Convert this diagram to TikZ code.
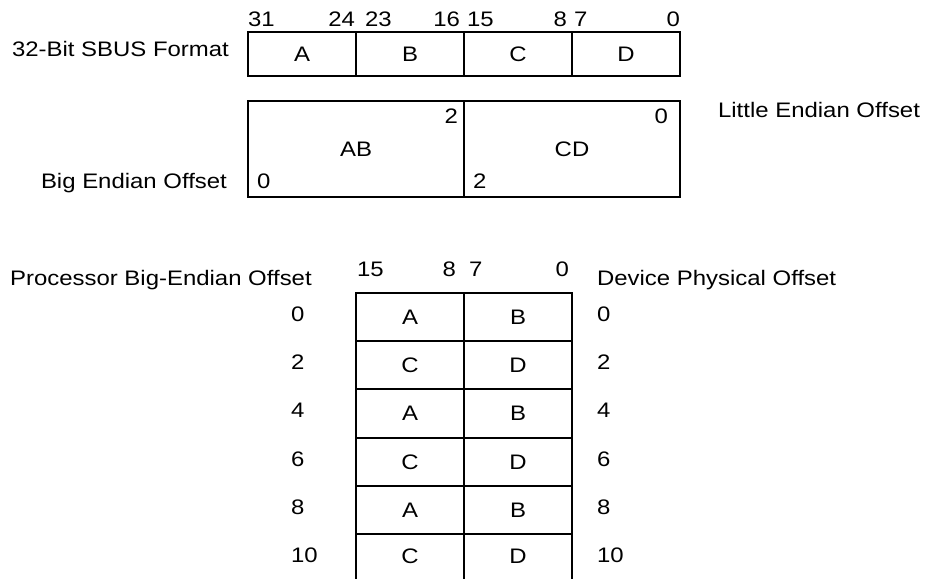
\documentclass[tikz,border=0pt]{standalone}
\usepackage{fontspec}
\setmainfont[FakeStretch=1.14]{Liberation Sans}
\begin{document}
\begin{tikzpicture}[
        x=0.5pt, y=-0.5pt,
        line width=1.1pt,
        font=\fontsize{10.5}{12.5}\selectfont
    ]
    \tikzset{
        bytecell/.style = {rectangle, draw=black, line width=1.1pt, minimum width=54pt, minimum height=22pt, inner sep=0pt, outer sep=0pt},
        halfcell/.style = {rectangle, draw=black, line width=1.1pt, minimum width=108pt, minimum height=48pt, inner sep=0pt, outer sep=0pt},
        rowcell/.style = {rectangle, draw=black, line width=1.1pt, minimum width=54pt, minimum height=24.17pt, inner sep=0pt, outer sep=0pt},
        opencell/.style = {inner sep=0pt, anchor=base},
        bitl/.style = {inner sep=0pt, anchor=base west},
        bitr/.style = {inner sep=0pt, anchor=base east},
    }
    \useasboundingbox (0,0) rectangle (925,579);
    %
    \node[bitr] at (230,56) (sbus) {32-Bit SBUS Format};
    \node[bitr] at (228,188) (bigend) {Big Endian Offset};
    \node[bitl] at (717,117) (littleend) {Little Endian Offset};
    \node[bitl] at (9,285) (procbig) {Processor Big-Endian Offset};
    \node[bitl] at (596,285) (devphys) {Device Physical Offset};
    %
    \node[bitl] at (247,26) (b31) {31};
    \node[bitr] at (356,26) (b24) {24};
    \node[bitl] at (364,26) (b23) {23};
    \node[bitr] at (461,26) (b16) {16};
    \node[bitl] at (466,26) (b15) {15};
    \node[bitr] at (568,26) (b8) {8};
    \node[bitl] at (573,26) (b7) {7};
    \node[bitr] at (681,26) (b0) {0};
    %
    \node[bytecell] at (302,54) (ba) {A};
    \node[bytecell] at (410,54) (bb) {B};
    \node[bytecell] at (518,54) (bc) {C};
    \node[bytecell] at (626,54) (bd) {D};
    %
    \node[halfcell] at (356,149) (hab) {AB};
    \node[halfcell] at (572,149) (hcd) {CD};
    \node[bitr] at (459,123) (leab) {2};
    \node[bitr] at (669,123) (lecd) {0};
    \node[bitl] at (256,188) (beab) {0};
    \node[bitl] at (472,188) (becd) {2};
    %
    \node[bitl] at (356,276) (p15) {15};
    \node[bitr] at (457,276) (p8) {8};
    \node[bitl] at (468,276) (p7) {7};
    \node[bitr] at (570,276) (p0) {0};
    %
    \node[rowcell] at (410,316.9) (pa1) {A};
    \node[rowcell] at (518,316.9) (pb1) {B};
    \node[rowcell] at (410,365.2) (pa2) {C};
    \node[rowcell] at (518,365.2) (pb2) {D};
    \node[rowcell] at (410,413.5) (pa3) {A};
    \node[rowcell] at (518,413.5) (pb3) {B};
    \node[rowcell] at (410,461.9) (pa4) {C};
    \node[rowcell] at (518,461.9) (pb4) {D};
    \node[rowcell] at (410,510.2) (pa5) {A};
    \node[rowcell] at (518,510.2) (pb5) {B};
    \node[opencell] at (410,563) (pa6) {C};
    \node[opencell] at (518,563) (pb6) {D};
    \coordinate (endl) at (356,579);
    \coordinate (endm) at (464,579);
    \coordinate (endr) at (572,579);
    \draw (pa5.south west) -- (endl);
    \draw (pa5.south east) -- (endm);
    \draw (pb5.south east) -- (endr);
    %
    \node[bitl] at (290,321) (lo0) {0};
    \node[bitl] at (290,369.3) (lo2) {2};
    \node[bitl] at (290,417.7) (lo4) {4};
    \node[bitl] at (290,466) (lo6) {6};
    \node[bitl] at (290,514.3) (lo8) {8};
    \node[bitl] at (290,562.7) (lo10) {10};
    \node[bitl] at (596,321) (ro0) {0};
    \node[bitl] at (596,369.3) (ro2) {2};
    \node[bitl] at (596,417.7) (ro4) {4};
    \node[bitl] at (596,466) (ro6) {6};
    \node[bitl] at (596,514.3) (ro8) {8};
    \node[bitl] at (596,562.7) (ro10) {10};
\end{tikzpicture}
\end{document}
